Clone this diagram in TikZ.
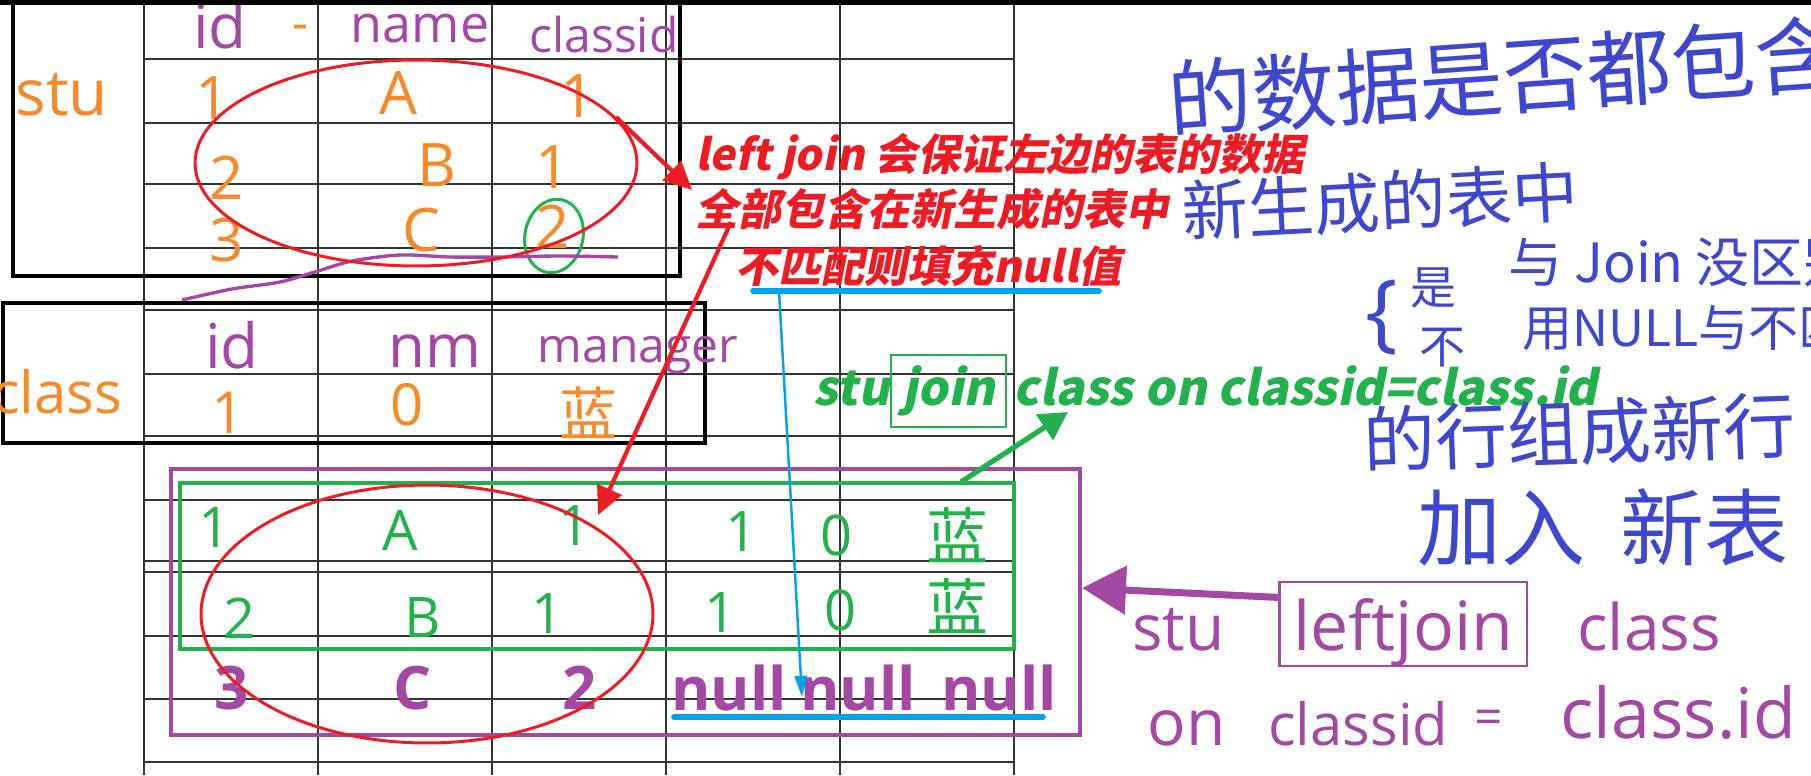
\documentclass[tikz,border=0pt]{standalone}
\usepackage{fontspec}
\setmainfont{Open Sans}
\newfontfamily\cjk{Noto Sans CJK SC}
\newfontfamily\cjkit{Noto Sans CJK SC}[FakeSlant=0.2]
\usetikzlibrary{arrows.meta,positioning}
\definecolor{penO}{HTML}{F58A2A}
\definecolor{penP}{HTML}{A349A4}
\definecolor{penG}{HTML}{22B14C}
\definecolor{penR}{HTML}{ED1C24}
\definecolor{penC}{HTML}{00A2E8}
\definecolor{penB}{HTML}{3F48CC}
\newcommand{\pxsize}[1]{\fontsize{\fpeval{#1*0.5691}pt}{\fpeval{#1*0.68}pt}\selectfont}
\tikzset{
  gridline/.style={black!80, line width=0.9pt},
  tblbox/.style={black, line width=2.6pt},
  ink/.style={inner sep=0pt, text=#1},
  redtxt/.style={inner sep=0pt, anchor=base west, text=penR, font=\cjkit\bfseries\pxsize{43}},
  grntxt/.style={inner sep=0pt, text=penG, font=\cjkit\bfseries\pxsize{48}},
  ring/.style={draw=penR, line width=1.7pt},
  redarrow/.style={draw=penR, line width=2.4pt, -{Triangle[length=16pt, width=15pt]}},
  cyanline/.style={draw=penC, line width=3.2pt, line cap=round},
  cyanarrow/.style={draw=penC, line width=1.4pt, -{Triangle[length=12pt, width=7pt]}},
  grnarrow/.style={draw=penG, line width=3pt, -{Triangle[length=16pt, width=17pt]}},
  purarrow/.style={draw=penP, line width=4pt, -{Triangle[length=25pt, width=27pt]}},
}

\begin{document}
\begin{tikzpicture}[x=0.02cm, y=-0.02cm]
  \useasboundingbox (0,0) rectangle (1811,775);
  \clip (0,0) rectangle (1811,775);
  \fill[white] (0,0) rectangle (1811,775);
  % sheet grid
  \foreach \gx in {144,318,492,666,840,1014} \draw[gridline] (\gx,5) -- (\gx,775);
  \foreach \gy in {59,123,184,248,310,374,436,500,561,572,636,699,762} \draw[gridline] (144,\gy) -- (1014,\gy);
  \draw[tblbox] (13,-5) rectangle (680,276);
  \draw[tblbox] (3,303) rectangle (705,443);

  % stu table
  \node (stuname) [ink=penO, font=\pxsize{64}, anchor=base] at (62,115) {stu};
  \node (stuid) [ink=penP, font=\pxsize{62}, anchor=base] at (220,48) {id};
  \node (studash) [ink=penO, font=\pxsize{50}] at (301,33) {-};
  \node (stunm) [ink=penP, font=\pxsize{52}, anchor=base] at (420,42) {name};
  \node (stucid) [ink=penP, font=\pxsize{48}, anchor=base] at (604,52) {classid};
  \foreach \cx/\cy/\ct in {213/98/1, 398/93/A, 578/96/1, 227/178/2, 437/165/B, 553/167/1, 227/240/3, 421/230/C, 553/227/2}
    \node (s-\cx-\cy) [ink=penO, font=\pxsize{60}] at (\cx,\cy) {\ct};
  \draw[penG, line width=1.7pt, rotate around={-12:(554,236)}] (554,236) ellipse [x radius=0.58cm, y radius=0.74cm];
  \draw[penP, line width=1.9pt] plot[smooth] coordinates {(182,300) (232,289) (280,282) (318,271) (352,261) (400,255) (450,257) (500,257) (560,256) (618,257)};

  % class table
  \node (clsname) [ink=penO, font=\pxsize{58}, anchor=base] at (57,413) {class};
  \node (clsid) [ink=penP, font=\pxsize{62}, anchor=base] at (232,368) {id};
  \node (clsnm) [ink=penP, font=\pxsize{60}, anchor=base] at (435,367) {nm};
  \node (clsmgr) [ink=penP, font=\pxsize{48}, anchor=base] at (638,362) {manager};
  \node (clsv1) [ink=penO, font=\pxsize{58}] at (228,413) {1};
  \node (clsv2) [ink=penO, font=\pxsize{58}] at (407,405) {0};
  \node (clsv3) [ink=penO, font=\cjk\pxsize{58}] at (588,413) {蓝};

  % joined table
  \draw[penP, line width=1.8pt] (171,469) rectangle (1080,735);
  \draw[penG, line width=2.8pt] (180,483) rectangle (1014,649);
  \foreach \cx/\cy/\ct in {215/528/1, 400/530/A, 574/525/1, 741/532/1, 836/535/0, 240/618/2, 423/617/B, 547/613/1, 720/612/1, 840/610/0}
    \node (j-\cx-\cy) [ink=penG, font=\pxsize{56}] at (\cx,\cy) {\ct};
  \node (jblue1) [ink=penG, font=\cjk\pxsize{62}] at (957,535) {蓝};
  \node (jblue2) [ink=penG, font=\cjk\pxsize{62}] at (957,606) {蓝};
  \foreach \cx/\ct in {232/3, 413/C, 580/2, 729/null, 858/null, 999/null}
    \node (n-\cx) [ink=penP, font=\bfseries\pxsize{60}] at (\cx,688) {\ct};

  % red notes
  \draw[ring] (416,163) ellipse [x radius=4.42cm, y radius=2.06cm];
  \draw[ring] (427,614) ellipse [x radius=4.52cm, y radius=2.58cm];
  \node (rl1) [redtxt] at (695,170) {left join 会保证左边的表的数据};
  \node (rl2) [redtxt] at (695,225) {全部包含在新生成的表中};
  \node (rl3) [redtxt] at (735,282) {不匹配则填充null值};
  \coordinate (ra1) at (616,117);
  \coordinate (rb1) at (692,190);
  \coordinate (ra2) at (731,222);
  \coordinate (rb2) at (598,515);
  \draw[redarrow] (ra1) -- (rb1);
  \draw[redarrow] (ra2) -- (rb2);

  % cyan marks
  \coordinate (cuL) at (753,291);
  \coordinate (cuR) at (1099,291);
  \coordinate (cyA) at (779,291);
  \coordinate (cyB) at (802,697);
  \coordinate (nuL) at (674,717);
  \coordinate (nuR) at (1043,717);
  \draw[cyanline] (cuL) -- (cuR);
  \draw[cyanline] (nuL) -- (nuR);
  \draw[cyanarrow] (cyA) -- (cyB);

  % green statement
  \node (gstu) [grntxt, anchor=base west] at (813,405) {stu};
  \node (gjoin) [grntxt, draw=penG, line width=1.4pt, inner xsep=0.22cm, text height=1cm, text depth=0.44cm, base right=0pt of gstu] {join};
  \node (gon) [grntxt, base right=0.12cm of gjoin] {class on classid=class.id};
  \coordinate (ga) at (961,482);
  \coordinate (gb) at (1068,412);
  \draw[grnarrow] (ga) -- (gb);

  % blue handwriting
  \node (bl1) [ink=penB, font=\cjk\pxsize{84}, anchor=west, rotate=4] at (1168,100) {的数据是否都包含};
  \node (bl2) [ink=penB, font=\cjk\pxsize{66}, anchor=west, rotate=3] at (1182,212) {新生成的表中};
  \node (bbrace) [ink=penB, font=\pxsize{86}] at (1382,318) {\{};
  \node (byes) [ink=penB, font=\cjk\pxsize{46}] at (1433,288) {是};
  \node (bno) [ink=penB, font=\cjk\pxsize{46}] at (1442,348) {不};
  \node (bl3) [ink=penB, font=\cjk\pxsize{54}, anchor=west] at (1508,262) {与 Join 没区别};
  \node (bl4) [ink=penB, font=\cjk\pxsize{50}, anchor=west] at (1522,328) {用NULL与不匹};
  \node (bl5) [ink=penB, font=\cjk\pxsize{72}, anchor=west, rotate=2] at (1363,440) {的行组成新行};
  \node (bl6) [ink=penB, font=\cjk\pxsize{84}, anchor=west] at (1417,527) {加入\hspace{0.7cm}新表};

  % purple statement
  \node (pstu) [ink=penP, font=\pxsize{64}, anchor=base west] at (1132,650) {stu};
  \node (pbox) [ink=penP, draw=penP, line width=1.6pt, font=\pxsize{68}, inner xsep=0.28cm, inner ysep=0pt, text height=1.36cm, text depth=0.32cm, anchor=base west] at (1278,650) {leftjoin};
  \node (pcls) [ink=penP, font=\pxsize{64}, anchor=base west] at (1577,650) {class};
  \node (pon) [ink=penP, font=\pxsize{64}, anchor=base west] at (1147,745) {on};
  \node (pcid) [ink=penP, font=\pxsize{58}, anchor=base west] at (1268,745) {classid};
  \node (peq) [ink=penP, font=\pxsize{50}] at (1489,722) {=};
  \node (pcdot) [ink=penP, font=\pxsize{70}, anchor=base west] at (1560,738) {class.id};
  \coordinate (pjoin) at (1082,588);
  \draw[purarrow] (pbox.168) -- (pjoin);

  \fill[black] (0,0) rectangle (1811,5);
\end{tikzpicture}
\end{document}
